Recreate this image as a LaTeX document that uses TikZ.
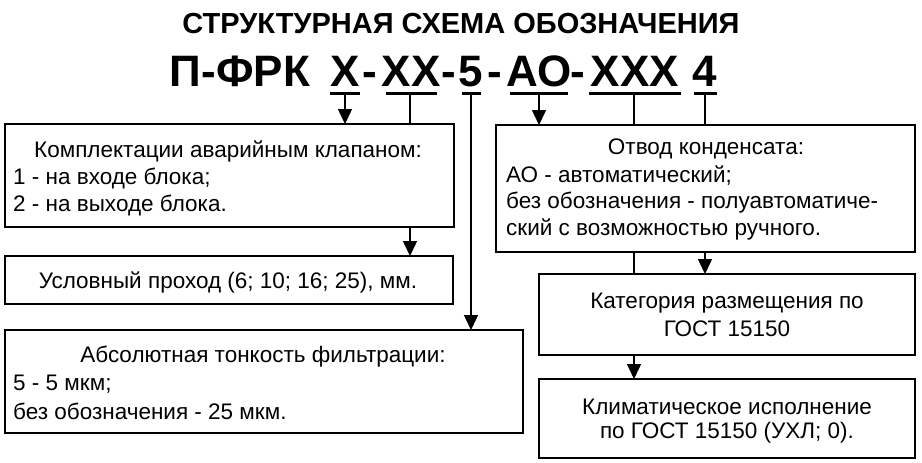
\documentclass[tikz,border=0pt]{standalone}
\usepackage{fontspec}
\setmainfont{Liberation Sans}
\usetikzlibrary{arrows.meta}
\begin{document}
\begin{tikzpicture}[x=1pt,y=-1pt,
  box/.style={draw,line width=1.8pt},
  t/.style={font=\fontsize{22.5}{24}\selectfont,inner sep=0pt},
  tl/.style={t,anchor=west},
  code/.style={font=\fontsize{44}{46}\selectfont\bfseries,inner sep=0pt,anchor=base},
  ul/.style={line width=3pt},
  ln/.style={line width=1.5pt},
  ar/.style={ln,-{Triangle[width=14pt,length=15pt]}}]
\useasboundingbox (0,0) rectangle (922,463);
\node[font=\fontsize{29}{30}\selectfont\bfseries,inner sep=0pt] (title) at (461,24) {СТРУКТУРНАЯ СХЕМА ОБОЗНАЧЕНИЯ};
% code
\node[code] (p) at (240,86) {П-ФРК};
\node[code] (x1) at (345,86) {X};
\node[code] (d1) at (370,86) {-};
\node[code] (x2) at (411,86) {XX};
\node[code] (d2) at (449,86) {-};
\node[code] (x3) at (471,86) {5};
\node[code] (d3) at (495,86) {-};
\node[code] (x4) at (539,86) {АО};
\node[code] (d4) at (578,86) {-};
\node[code] (x5) at (635,86) {XXX};
\node[code] (x6) at (705,86) {4};
\coordinate (u1a) at (330,93); \coordinate (u1b) at (360,93);
\coordinate (u2a) at (386,93); \coordinate (u2b) at (437,93);
\coordinate (u3a) at (462,93); \coordinate (u3b) at (481,93);
\coordinate (u4a) at (510,93); \coordinate (u4b) at (568,93);
\coordinate (u5a) at (589,93); \coordinate (u5b) at (681,93);
\coordinate (u6a) at (694,93); \coordinate (u6b) at (717,93);
\foreach \i in {1,...,6} {\draw[ul] (u\i a) -- (u\i b);}
% boxes
\draw[box] (5,124) rectangle (454,227);
\draw[box] (5,256) rectangle (453,304);
\draw[box] (5,330) rectangle (523,433);
\draw[box] (496,125) rectangle (915,252);
\draw[box] (539,274) rectangle (915,355);
\draw[box] (539,379) rectangle (915,458);
% connectors
\draw[ar] (345,93) -- (345,124);
\draw[ln] (410,93) -- (410,124);
\draw[ar] (471,93) -- (471,330);
\draw[ar] (539,93) -- (539,125);
\draw[ln] (634,93) -- (634,125);
\draw[ln] (705,93) -- (705,125);
\draw[ar] (410,227) -- (410,256);
\draw[ln] (634,252) -- (634,274);
\draw[ar] (705,252) -- (705,274);
\draw[ar] (634,355) -- (634,379);
% texts
\node[t] (a1) at (228,151) {Комплектации аварийным клапаном:};
\node[tl] (a2) at (13,178) {1 - на входе блока;};
\node[tl] (a3) at (13,205) {2 - на выходе блока.};
\node[t] (b1) at (228,282) {Условный проход (6; 10; 16; 25), мм.};
\node[t] (c1) at (263,357) {Абсолютная тонкость фильтрации:};
\node[tl] (c2) at (13,384) {5 - 5 мкм;};
\node[tl] (c3) at (13,411) {без обозначения - 25 мкм.};
\node[t] (e1) at (706,149) {Отвод конденсата:};
\node[tl] (e2) at (506,176) {АО - автоматический;};
\node[tl] (e3) at (506,203) {без обозначения - полуавтоматиче-};
\node[tl] (e4) at (506,229) {ский с возможностью ручного.};
\node[t] (f1) at (727,303) {Категория размещения по};
\node[t] (f2) at (727,329) {ГОСТ 15150};
\node[t] (g1) at (727,407) {Климатическое исполнение};
\node[t] (g2) at (727,433) {по ГОСТ 15150 (УХЛ; 0).};
\end{tikzpicture}
\end{document}
